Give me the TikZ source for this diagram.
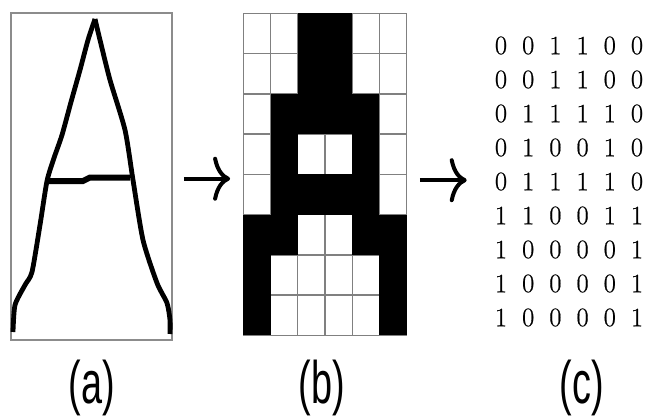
\documentclass[tikz,border=0pt]{standalone}
\usepackage{fontspec}
\newfontfamily\labelfont{Liberation Sans}
\newfontfamily\digitfont{Latin Modern Roman}[FakeBold=0.7]
\usetikzlibrary{arrows.meta}

\begin{document}
\begin{tikzpicture}[x=1pt, y=-1pt, >={Computer Modern Rightarrow[length=17pt,width=44pt]},
    stroke/.style={line width=4.8pt, line join=round},
    cell/.style={draw=black!50, line width=1.4pt},
    digit/.style={inner sep=0pt, font=\digitfont\fontsize{26.5}{30}\selectfont},
    caption/.style={anchor=base, inner sep=0pt, xscale=0.63, font=\labelfont\fontsize{60}{70}\selectfont}]
  \useasboundingbox (0,0) rectangle (649,416);

  \node[draw=black!45, line width=1.5pt, minimum width=161pt, minimum height=327pt, inner sep=0pt] (sketch) at (91.5,176.5) {};
  \draw[stroke] plot[smooth, tension=0.4] coordinates {(13,332) (15,305) (25,285) (32,272) (40,225) (47,181) (54,158) (62,135) (71,102) (80,70) (88,40) (95,19)};
  \draw[stroke] plot[smooth, tension=0.4] coordinates {(95,19) (100,40) (110,80) (125,130) (133,180) (143,240) (157,283) (167,303) (170,320) (170,334)};
  \draw[line width=6pt] (48,181) -- (83,181) -- (90,177.5) -- (130,177.5);

  \node[minimum width=163.4pt, minimum height=322pt, inner sep=0pt] (grid) at (325,174.3) {};
  \foreach \r in {0,...,8}
    \draw[cell] (243.3,13.3+40.25*\r) -- ++(163.4,0);
  \foreach \c in {0,...,6}
    \draw[cell] (243.3+27.23*\c,13.3) -- ++(0,322);
  \foreach \row [count=\r] in {{0,0,1,1,0,0},{0,0,1,1,0,0},{0,1,1,1,1,0},{0,1,0,0,1,0},{0,1,1,1,1,0},{1,1,0,0,1,1},{1,0,0,0,0,1},{1,0,0,0,0,1}}
    \foreach \v [count=\c] in \row {
      \ifnum\v=1 \fill (216.07+27.23*\c,-26.95+40.25*\r) rectangle ++(27.23,40.25); \fi
    }

  \foreach \row [count=\r] in {{0,0,1,1,0,0},{0,0,1,1,0,0},{0,1,1,1,1,0},{0,1,0,0,1,0},{0,1,1,1,1,0},{1,1,0,0,1,1},{1,0,0,0,0,1},{1,0,0,0,0,1},{1,0,0,0,0,1}}
    \foreach \v [count=\c] in \row
      \node[digit] (b-\r-\c) at (473.8+27.2*\c,11.5+34*\r) {\v};

  \draw[->, line width=4pt] ([shift={(11,2.2)}]sketch.east) -- ([shift={(-13,4.4)}]grid.west);
  \draw[->, line width=4pt] ([shift={(13,5.9)}]grid.east) -- ([shift={(-28,-1.3)}]b-5-1.west);

  \node[caption] (capa) at (92,403) {(a)};
  \node[caption] (capb) at (322,403) {(b)};
  \node[caption] (capc) at (582,403) {(c)};
\end{tikzpicture}
\end{document}
